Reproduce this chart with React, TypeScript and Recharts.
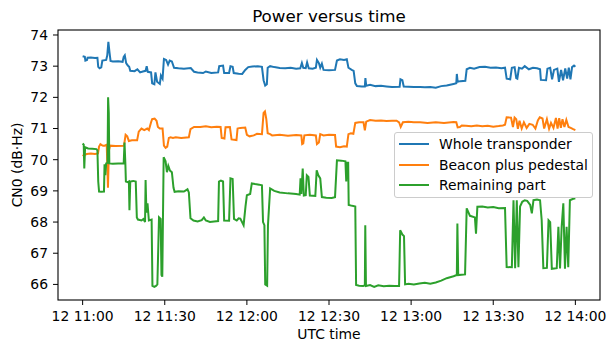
import { LineChart, Line, XAxis, YAxis } from 'recharts'

// minutes after 12 11:00 UTC, CN0 in dB·Hz
const whole: [number, number][] = [
  [0, 73.32], [0.8, 73.3], [1.0, 73.18], [1.6, 73.2], [1.8, 73.27], [3, 73.28], [4.5, 73.26], [5.4, 73.27],
  [5.7, 72.98], [6.2, 72.93], [6.8, 72.96], [7.2, 73.18], [8.6, 73.2], [9.0, 73.35], [9.4, 73.78], [9.8, 73.45],
  [10.2, 73.17], [11, 73.15], [13, 73.16], [14.6, 73.14], [15.0, 73.3], [15.4, 73.35], [15.9, 73.1], [16.5, 73.02],
  [17, 72.98], [17.4, 72.85], [19, 72.84], [20, 72.9], [21, 72.8], [22, 72.83], [23, 72.85], [23.4, 73.0],
  [23.8, 72.82], [25.0, 72.8], [25.4, 72.45], [26.2, 72.42], [26.6, 72.8], [27.2, 72.5], [28.2, 72.43], [28.6, 72.7],
  [29.2, 72.6], [29.7, 73.23], [30.5, 73.2], [31.2, 73.05], [31.8, 73.18], [32.6, 73.15], [33.4, 72.95], [35, 72.93],
  [37, 72.92], [39.5, 72.94], [40.7, 72.82], [42, 72.8], [44, 72.78], [45, 72.83], [47, 72.78], [49.5, 72.8],
  [49.9, 73.0], [51.3, 73.02], [51.7, 72.78], [53.5, 72.78], [54, 73.0], [54.8, 72.98], [55.2, 72.78], [57, 72.76],
  [58.3, 72.75], [59.4, 72.88], [60.5, 72.97], [62, 72.99], [64, 73.0], [65.5, 72.98], [66.1, 72.55], [66.7, 72.38],
  [67.3, 72.42], [67.6, 72.95], [68.5, 73.0], [70, 72.97], [72, 72.94], [74, 72.93], [76, 72.95], [78, 72.92],
  [79.5, 72.93], [80.1, 73.1], [80.6, 72.95], [81.5, 72.94], [82, 73.12], [82.6, 72.93], [84, 72.92], [85.2, 72.95],
  [85.6, 73.2], [86.3, 73.1], [86.8, 72.95], [87.4, 73.08], [88, 72.88], [90, 72.87], [92.2, 72.88], [92.9, 73.18],
  [94, 73.22], [95.5, 73.2], [96.5, 73.22], [97.1, 72.95], [98.3, 72.88], [99.0, 72.85], [99.6, 72.45], [100.2, 72.36],
  [102, 72.35], [103.1, 72.35], [103.3, 72.62], [103.6, 72.37], [105, 72.4], [107, 72.36], [109, 72.37], [111, 72.35],
  [113, 72.33], [115.8, 72.34], [116.1, 72.58], [116.8, 72.55], [117.3, 72.35], [119, 72.34], [121, 72.33], [123.3, 72.33],
  [125, 72.32], [127, 72.33], [129, 72.31], [131, 72.36], [133, 72.38], [135.5, 72.43], [136.5, 72.45], [136.7, 72.75],
  [137, 72.5], [138, 72.52], [139.8, 72.53], [140.3, 72.9], [141.5, 72.95], [143, 72.92], [145, 72.97], [147, 72.98],
  [149, 72.95], [151, 72.96], [153, 72.93], [154.3, 72.95], [154.9, 72.6], [156.2, 72.58], [156.8, 72.95], [157.8, 72.97],
  [158.4, 72.62], [158.8, 72.6], [159.4, 72.95], [160.5, 72.92], [161.5, 73.0], [163, 72.9], [164.5, 72.95], [166, 72.93],
  [167.1, 72.9], [167.4, 72.56], [169.3, 72.55], [169.8, 72.92], [170.8, 72.95], [171.5, 72.58], [172.2, 72.88], [173.4, 72.92],
  [174, 72.5], [174.8, 72.88], [175.5, 72.55], [176.3, 72.93], [177, 72.6], [177.6, 72.95], [178.2, 72.58], [178.8, 72.97],
  [179.5, 73.02], [180, 72.98],
]

const beacon: [number, number][] = [
  [0, 70.12], [0.5, 70.15], [1.5, 70.18], [3, 70.2], [4.5, 70.18], [5.6, 70.2], [6.0, 70.42], [6.5, 70.5],
  [7.0, 70.47], [7.5, 70.45], [8.0, 70.45], [8.8, 70.48], [9.1, 69.6], [9.25, 69.1], [9.6, 70.3], [10, 70.45],
  [12, 70.44], [15.1, 70.45], [15.7, 70.8], [16.3, 70.75], [16.9, 70.6], [18, 70.62], [19.9, 70.62], [20.5, 70.9],
  [21.5, 71.0], [22.5, 70.95], [23.6, 71.0], [24.2, 70.95], [25, 71.2], [25.4, 71.3], [26.3, 71.32], [27.0, 71.25],
  [27.5, 71.05], [28.2, 71.0], [29.2, 71.0], [29.7, 70.45], [30.3, 70.38], [30.9, 70.42], [31.5, 70.7], [32.1, 70.72],
  [33, 70.7], [34, 70.72], [36, 70.7], [38.8, 70.72], [39.4, 70.98], [40.7, 71.05], [43, 71.05], [45, 71.07],
  [47, 71.04], [49, 71.06], [50.4, 71.05], [50.8, 70.7], [51.8, 70.68], [52.2, 71.04], [53.8, 71.05], [54.4, 70.65],
  [56.2, 70.63], [56.6, 71.0], [57.6, 71.02], [59.4, 71.03], [60, 70.8], [61, 70.75], [62.5, 70.78], [63.7, 70.83],
  [65.5, 70.82], [66.1, 71.5], [66.6, 71.55], [67.1, 71.3], [67.6, 70.85], [68.5, 70.82], [69.2, 70.78], [72, 70.8],
  [75, 70.77], [78, 70.79], [79.9, 70.78], [80.2, 70.5], [80.6, 70.52], [81, 70.78], [83, 70.8], [85.2, 70.78],
  [85.6, 70.5], [86.3, 70.55], [86.8, 70.82], [88, 70.78], [90, 70.8], [92.2, 70.79], [92.6, 70.42], [94, 70.4],
  [95.5, 70.43], [96.5, 70.42], [97.1, 70.82], [98, 70.85], [98.9, 70.83], [99.6, 71.18], [101, 71.2], [102.6, 71.2],
  [103.1, 70.94], [103.6, 71.22], [105, 71.27], [107, 71.25], [109, 71.26], [111, 71.24], [113, 71.25], [114.7, 71.25],
  [115.6, 71.2], [116.2, 71.05], [117, 71.2], [119, 71.22], [121, 71.2], [123.3, 71.2], [126, 71.18], [129, 71.2],
  [132, 71.18], [135.5, 71.21], [136.5, 71.2], [137, 71.04], [137.8, 71.05], [138.5, 71.1], [140, 71.09], [142, 71.07],
  [144, 71.1], [146, 71.07], [148, 71.09], [150, 71.06], [152, 71.08], [153.5, 71.1], [154.3, 71.12], [154.9, 71.36],
  [156.5, 71.35], [157.2, 71.05], [157.8, 71.35], [158.4, 71.3], [159, 70.99], [159.6, 71.25], [160.4, 71.0], [161.2, 71.2],
  [162.2, 71.02], [163.2, 71.15], [164.4, 71.12], [165.4, 71.0], [166.3, 71.26], [167, 71.36], [168, 71.32], [168.6, 71.0],
  [169.6, 71.3], [170.4, 70.99], [171.1, 71.18], [172, 71.02], [172.9, 71.34], [173.5, 71.0], [174.1, 71.33], [174.7, 71.02],
  [175.3, 71.3], [176, 71.05], [176.7, 71.28], [177.5, 71.05], [178.3, 71.02], [179.2, 70.98], [180, 70.95],
]

const remaining: [number, number][] = [
  [0, 70.52], [0.4, 70.48], [0.6, 69.72], [0.9, 70.4], [2, 70.36], [3.5, 70.35], [5.0, 70.34], [5.4, 70.3],
  [5.7, 69.3], [6.0, 68.98], [6.8, 68.97], [7.8, 68.98], [8.0, 69.85], [8.3, 69.5], [8.6, 69.88], [9.1, 69.9],
  [9.3, 72.0], [9.55, 71.5], [9.75, 69.88], [11, 69.87], [13, 69.88], [15.0, 69.88], [15.3, 70.55], [15.6, 69.9],
  [15.8, 69.3], [16.5, 69.28], [16.9, 69.3], [17.1, 68.38], [17.4, 69.3], [18.5, 69.32], [19.4, 69.3], [19.8, 68.15],
  [20.2, 68.08], [21.5, 68.05], [22.2, 68.1], [22.8, 68.0], [23.0, 69.35], [23.3, 68.3], [23.7, 68.6], [24.2, 68.05],
  [25.2, 68.08], [25.5, 65.95], [26.2, 65.92], [26.8, 65.95], [27.3, 66.0], [27.9, 68.15], [28.5, 68.1], [28.8, 66.3],
  [29.1, 66.25], [29.6, 70.08], [30.3, 69.95], [30.8, 69.6], [31.3, 69.8], [31.9, 69.65], [32.6, 69.6], [33.2, 69.1],
  [33.6, 68.97], [35, 68.99], [37, 68.98], [38.3, 69.05], [38.8, 68.95], [39.4, 68.12], [40.5, 68.05], [42, 68.02],
  [43.5, 68.06], [44.3, 68.15], [45, 68.05], [46.5, 68.0], [48, 68.02], [49.5, 68.03], [49.8, 69.3], [50.5, 69.33],
  [51.3, 69.3], [51.7, 68.05], [53.5, 68.04], [54.0, 69.4], [54.8, 69.38], [55.3, 68.1], [56.3, 68.05], [57, 68.12],
  [57.6, 68.11], [58.8, 67.9], [59.5, 68.5], [60, 68.86], [61.2, 68.9], [61.8, 69.24], [63, 69.22], [64.5, 69.2],
  [65.5, 69.18], [65.9, 68.0], [66.4, 67.9], [66.7, 66.0], [67.4, 65.96], [67.7, 67.9], [67.9, 68.2], [68.5, 69.08],
  [70, 69.0], [72, 68.95], [75, 68.92], [78, 68.9], [79.3, 68.88], [79.6, 69.4], [79.9, 68.9], [80.4, 69.72],
  [80.8, 68.85], [81.5, 68.86], [81.9, 69.5], [82.5, 69.45], [83, 68.85], [85, 68.84], [85.5, 69.66], [86.1, 69.5],
  [86.8, 69.4], [87.4, 68.8], [89, 68.78], [91, 68.77], [92.2, 68.8], [92.9, 69.98], [94.5, 69.97], [96.0, 69.95],
  [96.3, 69.3], [96.6, 69.9], [97.0, 69.9], [97.2, 68.55], [98.5, 68.52], [99.6, 68.5], [99.9, 65.98], [101, 65.96],
  [102.5, 65.95], [103.1, 65.97], [103.25, 67.9], [103.5, 65.95], [105, 65.98], [106.5, 65.92], [108, 65.97], [110, 65.94],
  [112, 65.96], [114, 65.95], [115.6, 65.95], [116.0, 67.74], [116.8, 67.6], [117.4, 67.55], [117.8, 66.0], [119, 66.02],
  [121, 66.0], [123, 66.03], [125, 66.05], [127, 66.02], [129, 66.06], [131, 66.12], [133, 66.2], [135.5, 66.26],
  [136.7, 66.3], [136.9, 67.95], [137.2, 66.3], [139.7, 66.32], [140.3, 68.44], [141.5, 68.2], [143.3, 68.15], [143.7, 67.63],
  [144.2, 68.49], [146, 68.5], [148, 68.47], [150, 68.48], [152, 68.44], [154.3, 68.45], [154.9, 66.56], [156.8, 66.55],
  [157.4, 68.7], [158, 66.52], [158.6, 68.7], [159.2, 66.55], [159.8, 68.5], [160.6, 68.65], [161.5, 68.7], [162.4, 68.68],
  [163.5, 68.55], [164.1, 68.28], [164.7, 68.7], [166, 68.72], [167.1, 68.7], [167.7, 68.06], [168.3, 66.52], [169.6, 66.53],
  [170.2, 68.06], [170.8, 68.0], [171.4, 66.5], [173.2, 66.52], [173.8, 67.85], [174.4, 66.51], [175.0, 67.85], [175.6, 68.6],
  [176.2, 66.5], [176.8, 67.85], [177.4, 66.55], [178.0, 68.7], [179, 68.74], [180, 68.76],
]

const xTicks = [0, 30, 60, 90, 120, 150, 180]
const yTicks = [66, 67, 68, 69, 70, 71, 72, 73, 74]

const series = [
  { name: 'Whole transponder', color: '#1f77b4', points: whole },
  { name: 'Beacon plus pedestal', color: '#ff7f0e', points: beacon },
  { name: 'Remaining part', color: '#2ca02c', points: remaining },
]

const FONT = '"DejaVu Sans", sans-serif'
const TICK = { fontSize: 13.9, fill: '#000', fontFamily: FONT }

function fmtTime(t: number) {
  const h = 11 + Math.floor(t / 60)
  const m = t % 60
  return `12 ${h}:${String(m).padStart(2, '0')}`
}

export default function App() {
  return (
    <div style={{ position: 'fixed', left: 0, top: 0, width: 616, height: 353, background: '#fff', fontFamily: FONT }}>
      <LineChart width={616} height={353} margin={{ top: 30, right: 16, bottom: 0, left: 0 }}>
        <XAxis dataKey="t" type="number" domain={[-9, 189]} ticks={xTicks} allowDataOverflow
          tickFormatter={fmtTime} tick={TICK} tickSize={5} tickMargin={6} height={53}
          axisLine={false} tickLine={{ stroke: '#000' }} interval={0} />
        <YAxis type="number" domain={[65.5, 74.16]} ticks={yTicks} allowDataOverflow
          tick={TICK} tickSize={5} tickMargin={5} width={58}
          axisLine={false} tickLine={{ stroke: '#000' }} interval={0} />
        {series.map(s => (
          <Line key={s.name} data={s.points.map(([t, v]) => ({ t, v }))}
            dataKey="v" type="linear" stroke={s.color} strokeWidth={2} dot={false}
            activeDot={false} isAnimationActive={false} name={s.name} />
        ))}
      </LineChart>

      {/* frame, title, axis labels */}
      <svg width={616} height={353} style={{ position: 'absolute', left: 0, top: 0, pointerEvents: 'none' }}>
        <rect x={58} y={30} width={542} height={270} fill="none" stroke="#000" strokeWidth={1.1} />
        <text x={329} y={22} textAnchor="middle" fontSize={16.7} fontFamily={FONT} fill="#000">Power versus time</text>
        <text x={329} y={339} textAnchor="middle" fontSize={13.9} fontFamily={FONT} fill="#000">UTC time</text>
        <text transform="translate(22,165) rotate(-90)" textAnchor="middle" fontSize={13.9} fontFamily={FONT} fill="#000">CN0 (dB·Hz)</text>
      </svg>

      {/* legend */}
      <div style={{
        position: 'absolute', left: 394, top: 132, width: 199, height: 66, boxSizing: 'border-box',
        border: '1px solid #cccccc', borderRadius: 3, background: 'rgba(255,255,255,0.8)', paddingTop: 1,
      }}>
        {series.map(s => (
          <div key={s.name} style={{ display: 'flex', alignItems: 'center', height: 20.5, fontSize: 13.9, color: '#000', whiteSpace: 'nowrap' }}>
            <svg width={44} height={10} style={{ flexShrink: 0 }}>
              <line x1={4} x2={34} y1={5} y2={5} stroke={s.color} strokeWidth={2} />
            </svg>
            <span>{s.name}</span>
          </div>
        ))}
      </div>
    </div>
  )
}
